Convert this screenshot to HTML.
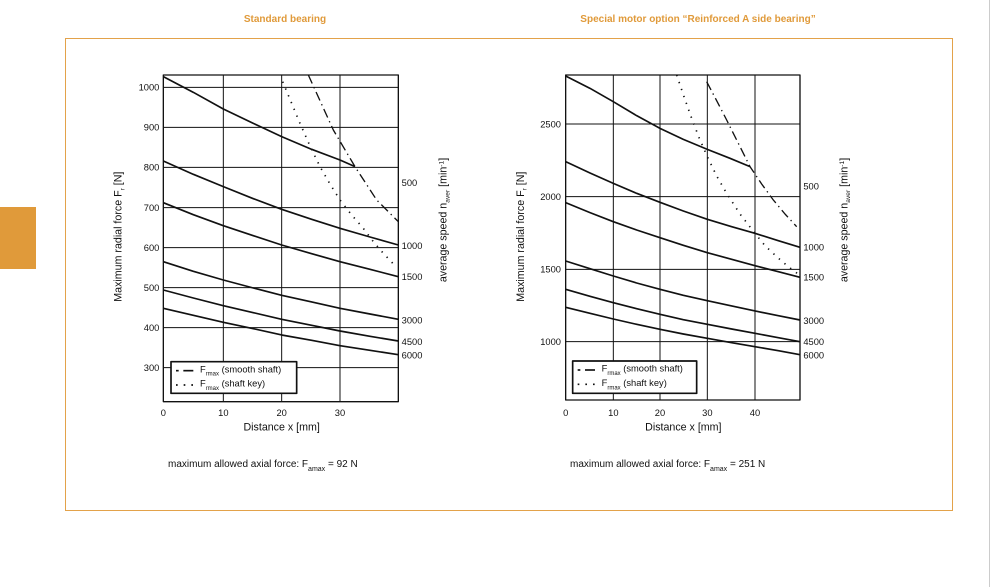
<!DOCTYPE html>
<html><head><meta charset="utf-8"><style>
body{margin:0;background:#fff;width:995px;height:587px;overflow:hidden;font-family:"Liberation Sans",sans-serif;}
</style></head><body>
<svg width="995" height="587" xmlns="http://www.w3.org/2000/svg" style="position:absolute;left:0;top:0" font-family="Liberation Sans, sans-serif">
<rect x="0" y="207" width="36" height="62" fill="#e09a3a"/>
<line x1="989.5" y1="0" x2="989.5" y2="587" stroke="#ccc" stroke-width="1"/>
<rect x="65.5" y="38.5" width="887" height="472" fill="none" stroke="#e3a24a" stroke-width="1"/>
<text x="285" y="22" font-size="10" font-weight="bold" fill="#e09a3a" text-anchor="middle">Standard bearing</text>
<text x="698" y="22" font-size="10" font-weight="bold" fill="#e09a3a" text-anchor="middle">Special motor option “Reinforced A side bearing”</text>
<text x="168" y="467" font-size="10" fill="#111">maximum allowed axial force: F<tspan font-size="7" dy="4">amax</tspan><tspan dy="-4"> =  92 N</tspan></text>
<text x="570" y="467" font-size="10" fill="#111">maximum allowed axial force: F<tspan font-size="7" dy="4">amax</tspan><tspan dy="-4"> =  251 N</tspan></text>

<!-- Left chart in zoom coords -->
<g transform="translate(100,60) scale(0.33333)" fill="none" stroke="#111" stroke-linejoin="round">
 <g stroke-width="3">
  <line x1="370" y1="45" x2="370" y2="1025"/><line x1="545" y1="45" x2="545" y2="1025"/><line x1="720" y1="45" x2="720" y2="1025"/>
  <line x1="190" y1="82" x2="895" y2="82"/><line x1="190" y1="202" x2="895" y2="202"/><line x1="190" y1="322" x2="895" y2="322"/><line x1="190" y1="443" x2="895" y2="443"/><line x1="190" y1="563" x2="895" y2="563"/><line x1="190" y1="683" x2="895" y2="683"/><line x1="190" y1="803" x2="895" y2="803"/><line x1="190" y1="923" x2="895" y2="923"/>
 </g>
 <rect x="190" y="45" width="705" height="980" stroke-width="4"/>
 <g stroke-width="5">
  <polyline points="190,50 280,97 370,147 460,190 545,230 635,268 720,300 765,320"/>
  <polyline points="190,303 280,343 370,380 460,416 545,448 635,478 720,505 810,531 895,555"/>
  <polyline points="190,428 280,464 370,497 460,527 545,555 635,581 720,605 810,628 895,650"/>
  <polyline points="190,605 280,634 370,660 460,684 545,706 635,726 720,745 810,762 895,778"/>
  <polyline points="190,690 280,714 370,737 460,758 545,778 635,796 720,813 810,829 895,843"/>
  <polyline points="190,745 280,766 370,787 460,806 545,825 635,841 720,857 810,871 895,884"/>
 </g>
 <polyline points="625,45 700,210 765,320 830,420 895,485" stroke-width="4" stroke-dasharray="28,12,4,12"/>
 <polyline points="548,65 575,130 600,190 630,258 660,320 690,372 720,420 755,465 790,505 820,545 850,580 888,620" stroke-width="5" stroke-dasharray="4,18"/>
 <rect x="213" y="905" width="377" height="95" fill="#fff" stroke-width="5"/>
 <line x1="228" y1="932" x2="236" y2="932" stroke-width="5"/><line x1="250" y1="932" x2="280" y2="932" stroke-width="5"/>
 <line x1="228" y1="975" x2="282" y2="975" stroke-width="5" stroke-dasharray="5,18"/>
 <g fill="#111" stroke="none" font-size="28">
  <text x="300" y="937">F<tspan font-size="18" dy="10">rmax</tspan><tspan dy="-10"> (smooth shaft)</tspan></text>
  <text x="300" y="980">F<tspan font-size="18" dy="10">rmax</tspan><tspan dy="-10"> (shaft key)</tspan></text>
  <g text-anchor="end"><text x="178" y="92">1000</text><text x="178" y="212">900</text><text x="178" y="332">800</text><text x="178" y="453">700</text><text x="178" y="573">600</text><text x="178" y="693">500</text><text x="178" y="813">400</text><text x="178" y="933">300</text></g>
  <g text-anchor="middle"><text x="190" y="1068">0</text><text x="370" y="1068">10</text><text x="545" y="1068">20</text><text x="720" y="1068">30</text></g>
  <text x="905" y="378">500</text><text x="905" y="567">1000</text><text x="905" y="660">1500</text><text x="905" y="790">3000</text><text x="905" y="855">4500</text><text x="905" y="895">6000</text>
  <text x="545" y="1112" font-size="32" text-anchor="middle">Distance x [mm]</text>
  <text transform="translate(65,530) rotate(-90)" font-size="32" text-anchor="middle">Maximum radial force F<tspan font-size="20" dy="8">r</tspan><tspan dy="-8"> [N]</tspan></text>
  <text transform="translate(1040,480) rotate(-90)" font-size="32" text-anchor="middle">average speed n<tspan font-size="20" dy="8">aver</tspan><tspan dy="-8"> [min</tspan><tspan font-size="20" dy="-10">-1</tspan><tspan dy="10">]</tspan></text>
 </g>
</g>

<!-- Right chart -->
<g transform="translate(510,60) scale(0.33333)" fill="none" stroke="#111" stroke-linejoin="round">
 <g stroke-width="3">
  <line x1="310" y1="45" x2="310" y2="1020"/><line x1="450" y1="45" x2="450" y2="1020"/><line x1="592" y1="45" x2="592" y2="1020"/><line x1="735" y1="45" x2="735" y2="1020"/>
  <line x1="167" y1="192" x2="870" y2="192"/><line x1="167" y1="410" x2="870" y2="410"/><line x1="167" y1="628" x2="870" y2="628"/><line x1="167" y1="845" x2="870" y2="845"/>
 </g>
 <rect x="167" y="45" width="703" height="975" stroke-width="4"/>
 <g stroke-width="5">
  <polyline points="167,48 240,85 310,125 380,167 450,205 520,238 592,268 660,295 720,320"/>
  <polyline points="167,305 240,339 310,370 380,400 450,427 520,453 592,478 665,500 735,520 805,542 870,562"/>
  <polyline points="167,428 240,458 310,485 380,510 450,533 520,556 592,578 665,598 735,617 805,635 870,652"/>
  <polyline points="167,603 240,626 310,648 380,669 450,688 520,706 592,722 665,738 735,753 805,767 870,780"/>
  <polyline points="167,688 240,709 310,728 380,746 450,763 520,779 592,793 665,807 735,820 805,833 870,845"/>
  <polyline points="167,742 240,760 310,777 380,793 450,808 520,822 592,835 665,848 735,860 805,872 870,884"/>
 </g>
 <polyline points="590,65 620,122 650,180 685,250 720,320 755,372 790,420 825,462 860,500" stroke-width="4" stroke-dasharray="28,12,4,12"/>
 <polyline points="500,45 522,110 545,175 568,235 592,290 620,348 650,400 690,462 735,520 765,557 800,590 835,620 868,645" stroke-width="5" stroke-dasharray="4,18"/>
 <rect x="188" y="903" width="372" height="97" fill="#fff" stroke-width="5"/>
 <line x1="203" y1="930" x2="211" y2="930" stroke-width="5"/><line x1="225" y1="930" x2="255" y2="930" stroke-width="5"/>
 <line x1="203" y1="973" x2="257" y2="973" stroke-width="5" stroke-dasharray="5,18"/>
 <g fill="#111" stroke="none" font-size="28">
  <text x="275" y="935">F<tspan font-size="18" dy="10">rmax</tspan><tspan dy="-10"> (smooth shaft)</tspan></text>
  <text x="275" y="978">F<tspan font-size="18" dy="10">rmax</tspan><tspan dy="-10"> (shaft key)</tspan></text>
  <g text-anchor="end"><text x="153" y="202">2500</text><text x="153" y="420">2000</text><text x="153" y="638">1500</text><text x="153" y="855">1000</text></g>
  <g text-anchor="middle"><text x="167" y="1068">0</text><text x="310" y="1068">10</text><text x="450" y="1068">20</text><text x="592" y="1068">30</text><text x="735" y="1068">40</text></g>
  <text x="880" y="388">500</text><text x="880" y="572">1000</text><text x="880" y="662">1500</text><text x="880" y="792">3000</text><text x="880" y="855">4500</text><text x="880" y="895">6000</text>
  <text x="520" y="1112" font-size="32" text-anchor="middle">Distance x [mm]</text>
  <text transform="translate(42,530) rotate(-90)" font-size="32" text-anchor="middle">Maximum radial force F<tspan font-size="20" dy="8">r</tspan><tspan dy="-8"> [N]</tspan></text>
  <text transform="translate(1012,480) rotate(-90)" font-size="32" text-anchor="middle">average speed n<tspan font-size="20" dy="8">aver</tspan><tspan dy="-8"> [min</tspan><tspan font-size="20" dy="-10">-1</tspan><tspan dy="10">]</tspan></text>
 </g>
</g>
</svg>
</body></html>
